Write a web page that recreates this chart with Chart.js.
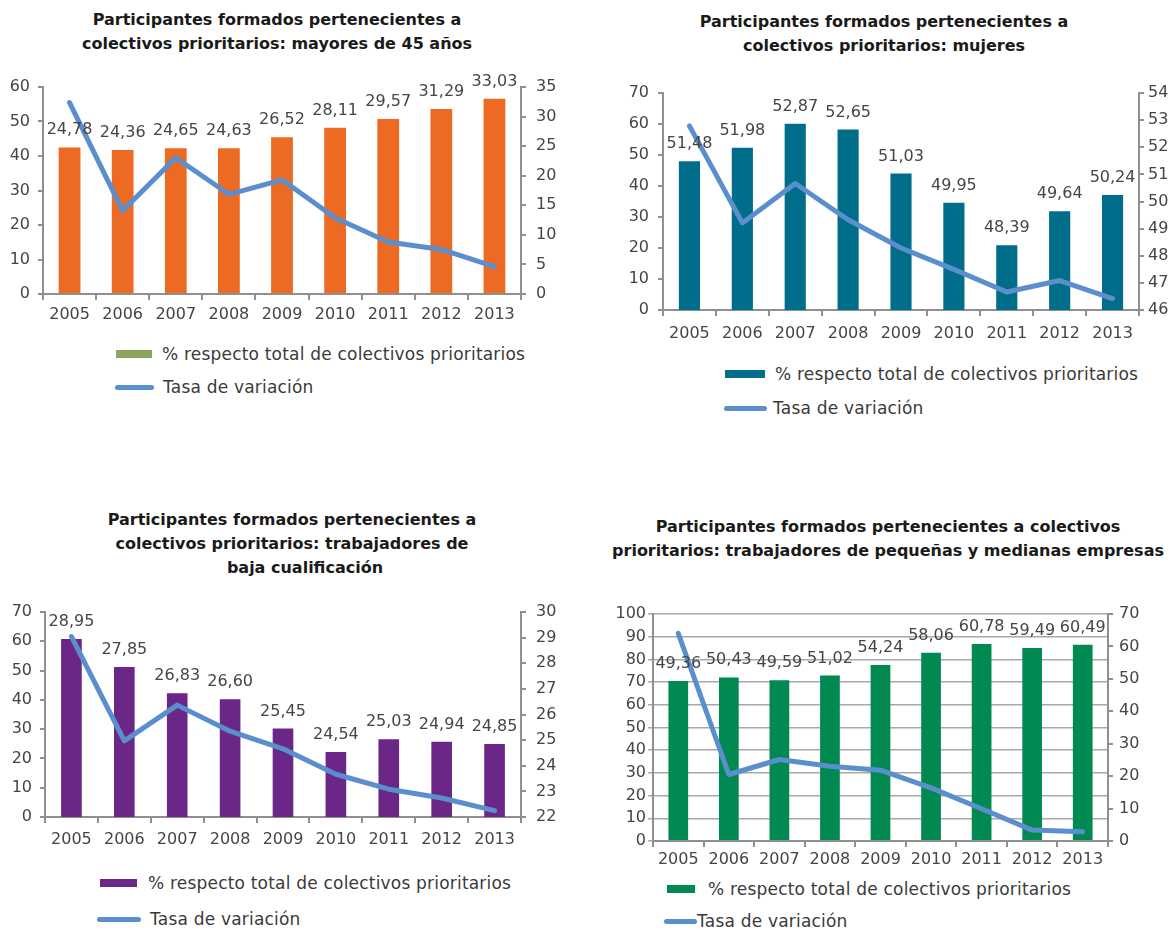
<!DOCTYPE html>
<html>
<head>
<meta charset="utf-8">
<script src="https://cdn.jsdelivr.net/npm/chart.js@4/dist/chart.umd.min.js"></script>
<style>
  body { margin:0; background:#fff; width:1174px; height:929px; position:relative; overflow:hidden; font-family:"DejaVu Sans", sans-serif; }
  .titulo { position:absolute; font-weight:bold; font-size:16px; line-height:24px; text-align:center; color:#1a1a1a; white-space:nowrap; transform:translateX(-50%); }
  canvas { position:absolute; }
  .texto { position:absolute; font-size:17px; letter-spacing:0.2px; line-height:20px; color:#3a3a3a; white-space:nowrap; }
  .caja { position:absolute; height:8px; }
  .raya { position:absolute; height:5px; border-radius:3px; background:#5b8ecc; }
</style>
</head>
<body>

<div class="titulo" style="left:277px; top:8px;">Participantes formados pertenecientes a<br>colectivos prioritarios: mayores de 45 años</div>
<div class="titulo" style="left:884px; top:10px;">Participantes formados pertenecientes a<br>colectivos prioritarios: mujeres</div>
<div class="titulo" style="left:292px; top:508px;">Participantes formados pertenecientes a<br>colectivos prioritarios: trabajadores de<br><span style="padding-left:26px">baja cualificación</span></div>
<div class="titulo" style="left:888px; top:515px;">Participantes formados pertenecientes a colectivos<br>prioritarios: trabajadores de pequeñas y medianas empresas</div>

<canvas id="g1" width="570" height="270" style="left:0px; top:60px;"></canvas>
<canvas id="g2" width="584" height="290" style="left:590px; top:60px;"></canvas>
<canvas id="g3" width="570" height="270" style="left:0px; top:580px;"></canvas>
<canvas id="g4" width="584" height="280" style="left:590px; top:590px;"></canvas>

<!-- leyendas -->
<div class="caja" style="left:116px; top:350px; width:36px; background:#8ba65c;"></div>
<div class="texto" style="left:162px; top:344px;">% respecto total de colectivos prioritarios</div>
<div class="raya" style="left:115px; top:385px; width:39px;"></div>
<div class="texto" style="left:163px; top:377px;">Tasa de variación</div>

<div class="caja" style="left:725px; top:370px; width:40px; background:#006e8a;"></div>
<div class="texto" style="left:775px; top:364px;">% respecto total de colectivos prioritarios</div>
<div class="raya" style="left:724px; top:406px; width:43px;"></div>
<div class="texto" style="left:773px; top:398px;">Tasa de variación</div>

<div class="caja" style="left:100px; top:879px; width:37px; background:#6b2787;"></div>
<div class="texto" style="left:148px; top:873px;">% respecto total de colectivos prioritarios</div>
<div class="raya" style="left:97px; top:917px; width:44px;"></div>
<div class="texto" style="left:150px; top:909px;">Tasa de variación</div>

<div class="caja" style="left:667px; top:885px; width:28px; background:#008950;"></div>
<div class="texto" style="left:708px; top:879px;">% respecto total de colectivos prioritarios</div>
<div class="raya" style="left:664px; top:919px; width:33px;"></div>
<div class="texto" style="left:697px; top:911px;">Tasa de variación</div>

<script>
// datos
const anios = ['2005', '2006', '2007', '2008', '2009', '2010', '2011', '2012', '2013'];

const pctMayores45 = [24.78, 24.36, 24.65, 24.63, 26.52, 28.11, 29.57, 31.29, 33.03];
const tasaMayores45 = [55.5, 24.1, 39.5, 28.9, 33.1, 22.1, 15.1, 12.9, 7.9];

const pctMujeres = [51.48, 51.98, 52.87, 52.65, 51.03, 49.95, 48.39, 49.64, 50.24];
const tasaMujeres = [59.4, 28.1, 40.8, 29.1, 20.0, 13.1, 5.8, 9.5, 3.7];

const pctBajaCualif = [28.95, 27.85, 26.83, 26.60, 25.45, 24.54, 25.03, 24.94, 24.85];
const tasaBajaCualif = [61.6, 26.0, 38.2, 29.3, 23.3, 14.6, 9.5, 6.5, 2.2];

const pctPymes = [49.36, 50.43, 49.59, 51.02, 54.24, 58.06, 60.78, 59.49, 60.49];
const tasaPymes = [91.5, 29.3, 35.9, 32.9, 31.2, 23.4, 14.2, 4.8, 4.1];

const grisEje = '#8f8f8f';
const colorTexto = '#454545';
const colorLinea = '#5b8ecc';
const fuente = { family: 'DejaVu Sans', size: 16 };

// etiquetas con el valor encima de cada barra
const etiquetasBarras = {
    id: 'etiquetasBarras',
    afterDatasetsDraw(chart) {
        const ctx = chart.ctx;
        const meta = chart.getDatasetMeta(0);
        const valores = chart.data.datasets[0].data;
        ctx.save();
        ctx.font = '16px "DejaVu Sans"';
        ctx.fillStyle = colorTexto;
        ctx.textAlign = 'center';
        ctx.textBaseline = 'alphabetic';
        meta.data.forEach((barra, i) => {
            ctx.fillText(valores[i].toFixed(2).replace('.', ','), barra.x, barra.y - 13);
        });
        ctx.restore();
    }
};

function crearGrafico(id, c) {
    const ctx = document.getElementById(id).getContext('2d');
    new Chart(ctx, {
        type: 'bar',
        data: {
            labels: anios,
            datasets: [{
                label: '% respecto total de colectivos prioritarios',
                data: c.pct,
                backgroundColor: c.color,
                yAxisID: 'yDer',
                barPercentage: c.anchoBarra,
                categoryPercentage: 1,
                order: 2
            }, {
                type: 'line',
                label: 'Tasa de variación',
                data: c.tasa,
                borderColor: colorLinea,
                borderWidth: 5,
                pointRadius: 0,
                tension: 0,
                fill: false,
                borderCapStyle: 'round',
                borderJoinStyle: 'round',
                yAxisID: 'yIzq',
                order: 1
            }]
        },
        options: {
            responsive: false,
            animation: false,
            devicePixelRatio: 1,
            events: [],
            layout: { padding: { top: c.arriba, left: 0, right: 0, bottom: 0 } },
            plugins: { legend: { display: false }, tooltip: { enabled: false } },
            scales: {
                x: {
                    grid: { offset: true, drawOnChartArea: false, tickLength: 6, color: grisEje, lineWidth: 2 },
                    border: { color: grisEje, width: 2 },
                    ticks: { color: colorTexto, font: fuente, padding: c.padX, maxRotation: 0, autoSkip: false },
                    afterFit: s => { s.height = c.altoX; }
                },
                yIzq: {
                    position: 'left',
                    min: c.izq[0], max: c.izq[1],
                    grid: { drawOnChartArea: c.rejilla, tickLength: 5, color: c.rejilla ? '#a8a8a8' : grisEje, lineWidth: c.rejilla ? 1.5 : 2 },
                    border: { color: grisEje, width: 2 },
                    ticks: { stepSize: c.izq[2], color: colorTexto, font: fuente, padding: c.padIzq },
                    afterFit: s => { s.width = c.anchoIzq; }
                },
                yDer: {
                    position: 'right',
                    min: c.der[0], max: c.der[1],
                    grid: { drawOnChartArea: false, tickLength: 5, color: grisEje, lineWidth: 2 },
                    border: { color: grisEje, width: 2 },
                    ticks: { stepSize: c.der[2], color: colorTexto, font: fuente, padding: c.padDer },
                    afterFit: s => { s.width = c.anchoDer; }
                }
            }
        },
        plugins: [etiquetasBarras]
    });
}

crearGrafico('g1', {
    pct: pctMayores45, tasa: tasaMayores45, color: '#ec6a21', anchoBarra: 0.41,
    izq: [0, 60, 10], der: [0, 35, 5], rejilla: false,
    arriba: 27, altoX: 36, anchoIzq: 43, anchoDer: 49, padX: 5, padIzq: 8, padDer: 10
});
crearGrafico('g2', {
    pct: pctMujeres, tasa: tasaMujeres, color: '#006e8a', anchoBarra: 0.40,
    izq: [0, 70, 10], der: [46, 54, 1], rejilla: false,
    arriba: 33, altoX: 40, anchoIzq: 73, anchoDer: 35, padX: 8, padIzq: 9, padDer: 4
});
crearGrafico('g3', {
    pct: pctBajaCualif, tasa: tasaBajaCualif, color: '#6b2787', anchoBarra: 0.39,
    izq: [0, 70, 10], der: [22, 30, 1], rejilla: false,
    arriba: 32, altoX: 33, anchoIzq: 45, anchoDer: 49, padX: 7, padIzq: 8, padDer: 10
});
crearGrafico('g4', {
    pct: pctPymes, tasa: tasaPymes, color: '#008950', anchoBarra: 0.39,
    izq: [0, 100, 10], der: [0, 70, 10], rejilla: true,
    arriba: 24, altoX: 29, anchoIzq: 63, anchoDer: 66, padX: 3, padIzq: 2, padDer: 6
});
</script>
</body>
</html>
